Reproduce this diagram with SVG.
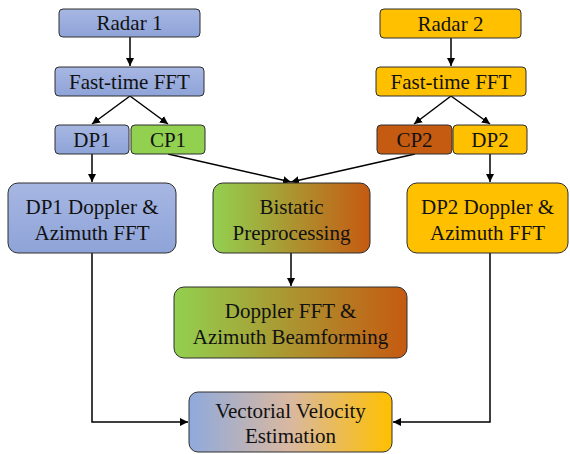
<svg xmlns="http://www.w3.org/2000/svg" width="570" height="454" viewBox="0 0 570 454">
<defs>
<linearGradient id="blue" x1="0" y1="0" x2="0" y2="1"><stop offset="0" stop-color="#a7b7e3"/><stop offset="1" stop-color="#8ea3d8"/></linearGradient>
<linearGradient id="gr" x1="0" y1="0" x2="1" y2="0"><stop offset="0" stop-color="#92d050"/><stop offset="1" stop-color="#c55a11"/></linearGradient>
<linearGradient id="bo" x1="0" y1="0" x2="1" y2="0"><stop offset="0" stop-color="#8faadc"/><stop offset="0.5" stop-color="#d9b8a0"/><stop offset="1" stop-color="#ffc000"/></linearGradient>
<marker id="ah" viewBox="0 0 10 10" refX="10" refY="5" markerWidth="8" markerHeight="8" markerUnits="userSpaceOnUse" orient="auto"><path d="M0,0 L10,5 L0,10 z" fill="#000"/></marker>
</defs>
<style>
rect{stroke:#2e2e2e;stroke-width:1}
.b{fill:url(#blue)}
.o{fill:#ffc000}
.g{fill:#92d050}
.r{fill:#c55a11}
.gr{fill:url(#gr)}
.bo{fill:url(#bo)}
text{fill:#111;text-anchor:middle;font-family:'Liberation Serif','Times New Roman',serif;font-size:21px}
#connectors path{fill:none;stroke:#000;stroke-width:1.5;marker-end:url(#ah)}
</style>
<g id="connectors">
<path d="M130,37 V66"/>
<path d="M130,96 L92,124"/>
<path d="M130,96 L168,124"/>
<path d="M451,38 V66"/>
<path d="M451,96 L414,124"/>
<path d="M451,96 L490,124"/>
<path d="M92,154 V182"/>
<path d="M168,154 L291,182"/>
<path d="M415,154 L291,182"/>
<path d="M490,154 V182"/>
<path d="M291,253 V286"/>
<path d="M92,253 V422 H188"/>
<path d="M490,253 V422 H393"/>
</g>
<g id="radar1"><rect class="b" x="59" y="9" width="141" height="28" rx="4"/><text x="129.5" y="30">Radar 1</text></g>
<g id="fft1"><rect class="b" x="55" y="67" width="149" height="29" rx="4"/><text x="129.5" y="89">Fast-time FFT</text></g>
<g id="dp1"><rect class="b" x="55" y="125" width="74" height="29" rx="4"/><text x="92" y="147">DP1</text></g>
<g id="cp1"><rect class="g" x="131" y="125" width="74" height="29" rx="4"/><text x="168" y="147">CP1</text></g>
<g id="radar2"><rect class="o" x="380" y="9" width="141" height="29" rx="4"/><text x="450.5" y="31">Radar 2</text></g>
<g id="fft2"><rect class="o" x="376" y="67" width="150" height="29" rx="4"/><text x="451" y="89">Fast-time FFT</text></g>
<g id="cp2"><rect class="r" x="377" y="125" width="75" height="29" rx="4"/><text x="414.5" y="147">CP2</text></g>
<g id="dp2"><rect class="o" x="453" y="125" width="74" height="29" rx="4"/><text x="490" y="147">DP2</text></g>
<g id="dp1fft"><rect class="b" x="8" y="183" width="168" height="70" rx="10"/><text x="92" y="214">DP1 Doppler &amp;</text><text x="92" y="240">Azimuth FFT</text></g>
<g id="bistatic"><rect class="gr" x="213" y="183" width="157" height="70" rx="10"/><text x="291.5" y="214">Bistatic</text><text x="291.5" y="240">Preprocessing</text></g>
<g id="dp2fft"><rect class="o" x="407" y="183" width="161" height="70" rx="10"/><text x="487.5" y="214">DP2 Doppler &amp;</text><text x="487.5" y="240">Azimuth FFT</text></g>
<g id="dopfft"><rect class="gr" x="174" y="287" width="233" height="71" rx="10"/><text x="290.5" y="318">Doppler FFT &amp;</text><text x="290.5" y="344">Azimuth Beamforming</text></g>
<g id="vve"><rect class="bo" x="189" y="392" width="203" height="60" rx="9"/><text x="290.5" y="418">Vectorial Velocity</text><text x="290.5" y="443">Estimation</text></g>
</svg>
